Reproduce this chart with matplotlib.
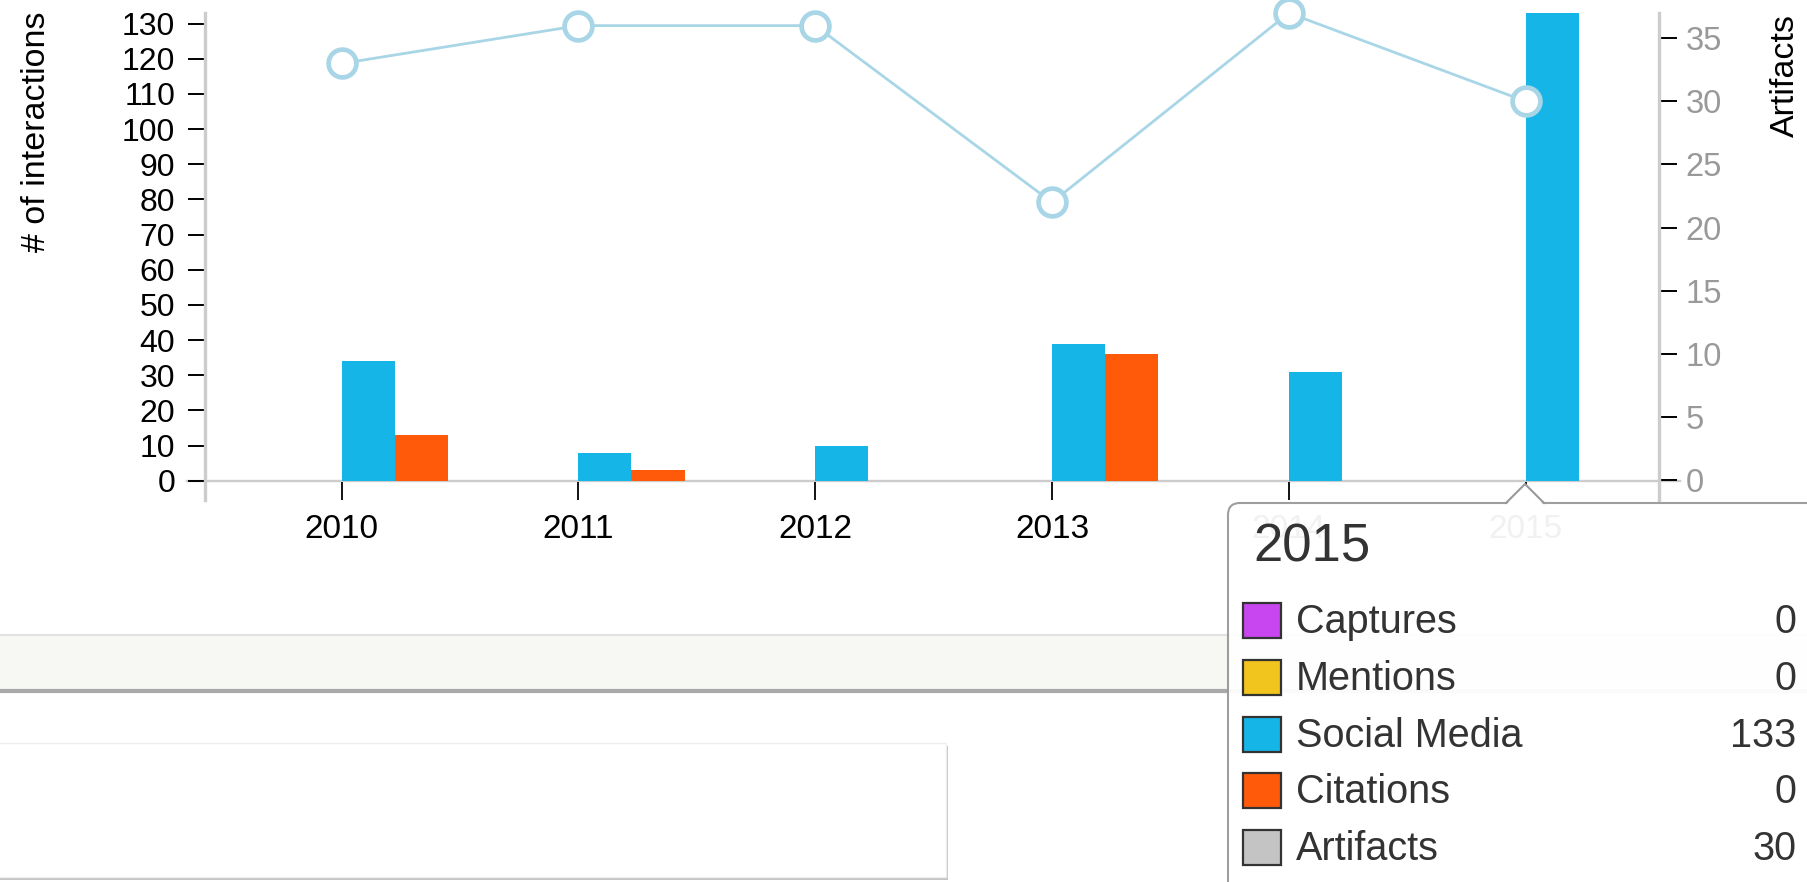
import numpy as np
import matplotlib
matplotlib.use("Agg")
import matplotlib.pyplot as plt
from matplotlib.patches import Rectangle, FancyBboxPatch, Polygon
from matplotlib.lines import Line2D
from matplotlib.transforms import Affine2D

plt.rcParams['font.family'] = ['Liberation Sans', 'DejaVu Sans']

# data
years = ['2010', '2011', '2012', '2013', '2014', '2015']
captures = [0, 0, 0, 0, 0, 0]
mentions = [0, 0, 0, 0, 0, 0]
social_media = [34, 8, 10, 39, 31, 133]
citations = [13, 3, 0, 36, 0, 0]
artifacts = [33, 36, 36, 22, 37, 30]

# tooltip content (hovered year)
tip_year = '2015'
tip_labels = ['Captures', 'Mentions', 'Social Media', 'Citations', 'Artifacts']
tip_values = [0, 0, 133, 0, 30]

colors = {'Captures': '#c846f0', 'Mentions': '#f2c41e', 'Social Media': '#16b5e7',
          'Citations': '#fe5a0a', 'Artifacts': '#c4c4c4'}

W, H = 1808, 882
fig = plt.figure(figsize=(W / 100, H / 100), dpi=100)
# pixel coords, y pointing down
pix = Affine2D().scale(1 / W, -1 / H).translate(0, 1) + fig.transFigure

# axes box: left spine 205, right spine 1659, top 13, bottom 500
ax1 = fig.add_axes([205 / W, 1 - 500 / H, (1659 - 205) / W, (500 - 13) / H])
ax2 = ax1.twinx()

x = np.arange(len(years))
w = 0.224
ax1.bar(x - 2 * w, captures, w, align='edge', color=colors['Captures'], zorder=2)
ax1.bar(x - w, mentions, w, align='edge', color=colors['Mentions'], zorder=2)
ax1.bar(x, social_media, w, align='edge', color=colors['Social Media'], zorder=2)
ax1.bar(x + w, citations, w, align='edge', color=colors['Citations'], zorder=2)

line_c = '#a9d6e6'
ax2.plot(x, artifacts, color=line_c, lw=2.0, marker='o', ms=20,
         mfc='white', mec=line_c, mew=3.4, clip_on=False, zorder=3)

ax1.set_xlim(-0.577, 5.563)
ax1.set_ylim(-5.49, 133)
ax2.set_ylim(-1.585, 37)

for a in (ax1, ax2):
    for s in ('top', 'bottom'):
        a.spines[s].set_visible(False)
    for s in ('left', 'right'):
        a.spines[s].set_color('#cccccc')
        a.spines[s].set_linewidth(2.4)
ax1.spines['right'].set_visible(False)
ax2.spines['left'].set_visible(False)

ax1.set_yticks(np.arange(0, 131, 10))
ax1.tick_params(axis='y', direction='out', length=12.5, width=1.4, color='black',
                labelsize=23, pad=9, labelcolor='black')
ax2.set_yticks(np.arange(0, 36, 5))
ax2.tick_params(axis='y', direction='out', length=13, width=1.4, color='black',
                labelsize=23.5, pad=6, labelcolor='#999999')
ax1.get_yticklines()[0].set_color('#cccccc')
ax2.get_yticklines()[1].set_color('#cccccc')

ax1.set_xticks(x)
ax1.set_xticklabels(years)
ax1.tick_params(axis='x', direction='in', length=13, width=1.3, color='black',
                labelsize=24, pad=10)

# zero baseline
ax1.add_line(Line2D([-(205 - 187) / 1454, 1 + (1680 - 1659) / 1454], [0, 0],
                    transform=ax1.get_yaxis_transform(), color='#cccccc', lw=1.7,
                    clip_on=False, zorder=1.5))

fig.text(37, 11, '# of interactions', transform=pix, rotation=90, ha='center',
         va='top', fontsize=24.5, color='black')
fig.text(1785, 14, 'Artifacts', transform=pix, rotation=90, ha='center',
         va='top', fontsize=24.5, color='black')

# page elements under the chart
fig.add_artist(Rectangle((0, 635), W, 57, transform=pix, facecolor='#f7f7f4',
                         edgecolor='none', zorder=1))
fig.add_artist(Line2D([0, W], [635, 635], transform=pix, color='#e2e2e2', lw=1.5, zorder=1))
fig.add_artist(Line2D([0, W], [691, 691], transform=pix, color='#a9a9a9', lw=3, zorder=1))
fig.add_artist(Rectangle((-10, 746), 958, 134, transform=pix, facecolor='#c4c4c4',
                         edgecolor='none', zorder=1))
fig.add_artist(Rectangle((-10, 743), 956, 134, transform=pix, facecolor='white',
                         edgecolor='#eeeeee', lw=1, zorder=1))

# tooltip
fig.add_artist(FancyBboxPatch((1228, 503), 620, 420, transform=pix,
                              boxstyle='round,pad=0,rounding_size=12',
                              facecolor='white', edgecolor='#999999', lw=1.5,
                              alpha=0.95, zorder=5))
fig.add_artist(Polygon([(1506, 505), (1525, 484), (1544, 505)], closed=True,
                       transform=pix, facecolor='white', edgecolor='none', zorder=6))
fig.add_artist(Line2D([1506, 1525, 1544], [503, 484, 503], transform=pix,
                      color='#999999', lw=1.5, zorder=6))

fig.text(1253, 561, tip_year, transform=pix, ha='left', va='baseline',
         fontsize=38, color='#333333', zorder=7)
row_y = 620
for lab, val in zip(tip_labels, tip_values):
    fig.add_artist(Rectangle((1243, row_y - 17), 38, 35, transform=pix,
                             facecolor=colors[lab], edgecolor='#333333', lw=1.6, zorder=7))
    fig.text(1296, row_y + 2, lab, transform=pix, ha='left', va='center',
             fontsize=28.5, color='#333333', zorder=7)
    fig.text(1796, row_y + 2, str(val), transform=pix, ha='right', va='center',
             fontsize=28.5, color='#333333', zorder=7)
    row_y += 56.8

fig.savefig('out.png', dpi=100)
